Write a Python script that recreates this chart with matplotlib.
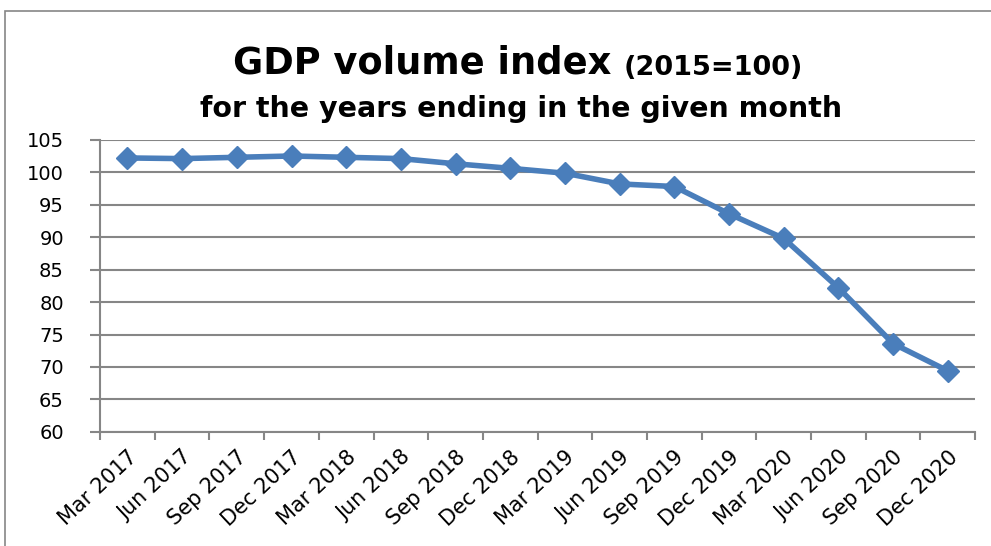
import numpy as np
import matplotlib
matplotlib.use("Agg")
import matplotlib.pyplot as plt
import matplotlib.transforms as mtransforms
from matplotlib.patches import Rectangle

plt.rcParams['font.family'] = ['DejaVu Sans']

# data
quarters = ["Mar 2017", "Jun 2017", "Sep 2017", "Dec 2017",
            "Mar 2018", "Jun 2018", "Sep 2018", "Dec 2018",
            "Mar 2019", "Jun 2019", "Sep 2019", "Dec 2019",
            "Mar 2020", "Jun 2020", "Sep 2020", "Dec 2020"]
gdp_index = [102.2, 102.1, 102.3, 102.5,
             102.3, 102.1, 101.3, 100.6,
             99.85, 98.2, 97.8, 93.6,
             89.8, 82.2, 73.6, 69.4]
y_ticks = [60, 65, 70, 75, 80, 85, 90, 95, 100, 105]

GRID = "#868686"
BLUE = "#4A7EBB"

fig = plt.figure(figsize=(9.91, 5.46), dpi=100)
ax = fig.add_axes([0.101, 0.209, 0.883, 0.535])

x = np.arange(len(quarters))
ax.plot(x, gdp_index, color=BLUE, lw=4, marker="D", ms=11,
        markeredgecolor=BLUE, zorder=3)

ax.set_xlim(-0.5, len(quarters) - 0.5)
ax.set_ylim(60, 105)
ax.set_yticks(y_ticks)
ax.set_yticklabels([str(v) for v in y_ticks], fontsize=14)

# category boundaries carry the tick marks, labels sit on the centres
ax.set_xticks(np.arange(-0.5, len(quarters), 1))
ax.set_xticklabels([])
ax.set_xticks(x, minor=True)
ax.set_xticklabels(quarters, minor=True, rotation=43, ha="right",
                   rotation_mode="anchor", fontsize=15)
shift = mtransforms.ScaledTranslation(12 / 100, 0, fig.dpi_scale_trans)
for lbl in ax.get_xticklabels(minor=True):
    lbl.set_transform(lbl.get_transform() + shift)
ax.tick_params(axis="x", which="major", length=6, color=GRID, width=1.5)
ax.tick_params(axis="x", which="minor", length=0, pad=11)
ax.tick_params(axis="y", length=7, color=GRID, width=1.5, pad=19)

ax.grid(axis="y", color=GRID, lw=1.5)
ax.set_axisbelow(True)
for side in ["top", "right"]:
    ax.spines[side].set_visible(False)
for side in ["left", "bottom"]:
    ax.spines[side].set_color(GRID)
    ax.spines[side].set_linewidth(1.5)

# titles
t1 = fig.text(0.235, 0.866, "GDP volume index ", fontsize=26.5,
              fontweight="bold", ha="left", va="baseline")
ax.annotate("(2015=100)", xy=(1, 0), xycoords=t1, fontsize=19.5,
            fontweight="bold", ha="left", va="bottom",
            annotation_clip=False)
fig.text(0.526, 0.786, "for the years ending in the given month",
         fontsize=20.5, fontweight="bold", ha="center", va="baseline")

# outer chart border
fig.patches.append(Rectangle((5 / 991, -0.05), 1.0, 1.05 - 11 / 546,
                             transform=fig.transFigure, fill=False,
                             edgecolor=GRID, lw=1.2))

fig.savefig("out.png", dpi=100)
